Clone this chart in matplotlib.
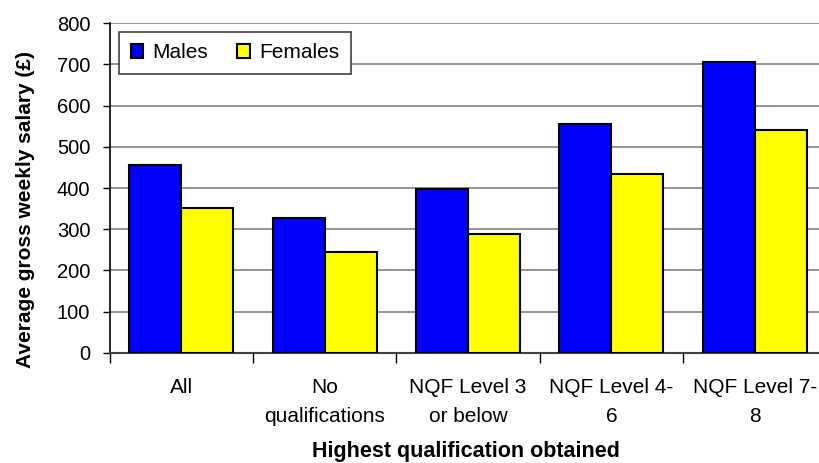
import numpy as np
import matplotlib
matplotlib.use("Agg")
import matplotlib.pyplot as plt
from matplotlib.ticker import FixedLocator

plt.rcParams['font.family'] = ['Liberation Sans', 'DejaVu Sans']

categories = ["All", "No\nqualifications", "NQF Level 3\nor below",
	"NQF Level 4-\n6", "NQF Level 7-\n8"]
males = [456, 327, 397, 556, 706]
females = [352, 245, 289, 435, 541]

fig = plt.figure(figsize=(8.19, 4.63), dpi=100)
ax = fig.add_axes([0.134, 0.2376, 0.875, 0.7127])

x = np.arange(len(categories))
w = 0.363
ax.bar(x - w / 2, males, w, color="#0000FF", edgecolor="black",
	linewidth=1.5, label="Males", zorder=3)
ax.bar(x + w / 2, females, w, color="#FFFF00", edgecolor="black",
	linewidth=1.5, label="Females", zorder=3)

ax.set_xlim(-0.5, len(categories) - 0.5)
ax.set_ylim(0, 800)
ax.set_yticks(np.arange(0, 801, 100))
ax.yaxis.grid(True, color="#808080", linewidth=1.2, zorder=0)
ax.set_axisbelow(True)

# Ticks between categories, labels at centres
ax.xaxis.set_major_locator(FixedLocator(np.arange(-0.5, len(categories), 1.0)))
ax.xaxis.set_minor_locator(FixedLocator(x))
ax.set_xticklabels([])
ax.set_xticklabels(categories, minor=True, fontsize=15, linespacing=1.7)
ax.tick_params(axis="x", which="major", length=7, width=1, color="black")
ax.tick_params(axis="x", which="minor", length=0, pad=18)
ax.tick_params(axis="y", length=5, width=1, labelsize=14.5, pad=9)

for s in ["top", "right"]:
	ax.spines[s].set_visible(False)
ax.spines["left"].set_color("black")
ax.spines["left"].set_linewidth(1.2)
ax.spines["bottom"].set_color("#404040")
ax.spines["bottom"].set_linewidth(1.5)

ax.set_ylabel("Average gross weekly salary (£)", fontsize=15,
	fontweight="bold")
ax.yaxis.set_label_coords(-0.104, 0.436)
ax.set_xlabel("Highest qualification obtained", fontsize=15.5,
	fontweight="bold")
ax.xaxis.set_label_coords(0.497, -0.268)

leg = ax.legend(loc="upper left", ncol=2, fontsize=15, frameon=True,
	fancybox=False, edgecolor="#404040", framealpha=1,
	bbox_to_anchor=(0.013, 0.973), borderaxespad=0,
	handlelength=0.62, handleheight=0.62, columnspacing=1.4,
	handletextpad=0.43, borderpad=0.55)
leg.get_frame().set_linewidth(1.2)
leg.set_zorder(5)

fig.savefig("out.png", dpi=100)
